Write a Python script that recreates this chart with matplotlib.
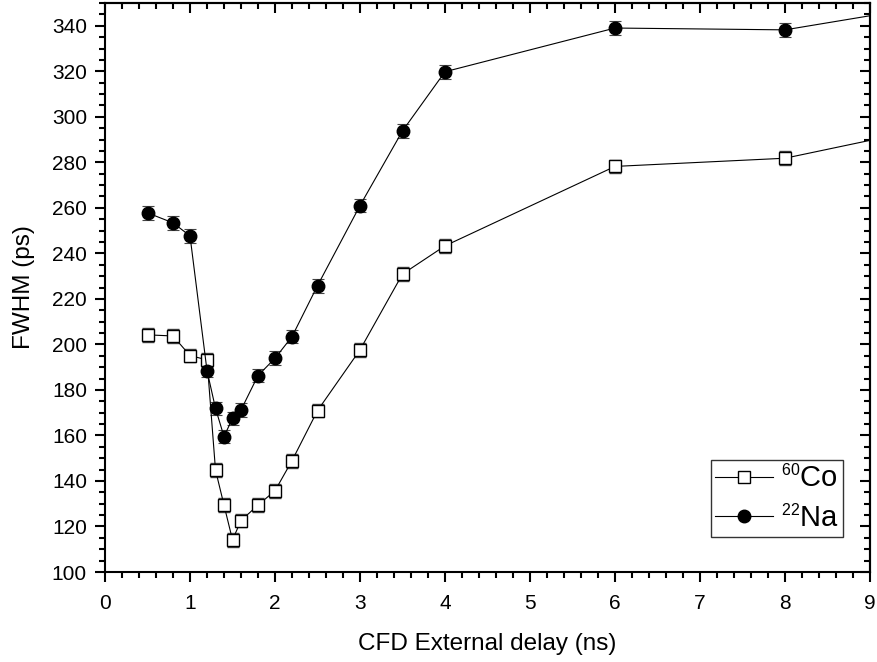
import matplotlib
matplotlib.use("Agg")
import matplotlib.pyplot as plt
from matplotlib.ticker import MultipleLocator
from matplotlib.lines import Line2D
try:
    import matplotlib._mathtext as _mt
    _mt.SHRINK_FACTOR = 0.55
except Exception:
    pass

plt.rcParams['font.family'] = ['Liberation Sans', 'DejaVu Sans']
plt.rcParams['mathtext.fontset'] = 'custom'
plt.rcParams['mathtext.rm'] = 'Liberation Sans'
plt.rcParams['mathtext.it'] = 'Liberation Sans'

# delay values (ns)
delay = [0.5, 0.8, 1.0, 1.2, 1.3, 1.4, 1.5, 1.6, 1.8, 2.0, 2.2, 2.5, 3.0, 3.5, 4.0, 6.0, 8.0, 10.0]
co60 = [204.2, 203.7, 195.1, 193.2, 144.8, 129.4, 114.1, 122.6, 129.4, 135.7, 148.9, 170.9, 197.6, 230.9, 243.3, 278.2, 281.8, 297.5]
na22 = [257.8, 253.4, 247.7, 188.5, 171.9, 159.5, 167.5, 171.2, 186.3, 193.9, 203.4, 225.8, 261.0, 293.8, 319.8, 339.0, 338.2, 350.6]
co60_err = [3] * len(delay)
na22_err = [3] * len(delay)
labels = ['$^{60}$Co', '$^{22}$Na']

fig = plt.figure(figsize=(8.77, 6.62), dpi=100)
ax = fig.add_axes([105/877, 1 - 572/662, 765/877, 569/662])

ax.errorbar(delay, co60, yerr=co60_err, color='black', lw=0.8, marker='s', ms=8,
            mfc='white', mec='black', mew=1.0, capsize=4, elinewidth=0.8, capthick=0.8,
            ecolor='#444444')
ax.errorbar(delay, na22, yerr=na22_err, color='black', lw=0.8, marker='o', ms=9,
            mfc='black', mec='black', capsize=4, elinewidth=0.8, capthick=0.8,
            ecolor='#444444')

ax.set_xlim(0, 9)
ax.set_ylim(100, 350)
ax.xaxis.set_major_locator(MultipleLocator(1))
ax.xaxis.set_minor_locator(MultipleLocator(0.2))
ax.yaxis.set_major_locator(MultipleLocator(20))
ax.yaxis.set_minor_locator(MultipleLocator(5))

for s in ax.spines.values():
    s.set_linewidth(1.5)

ax.tick_params(which='both', direction='out', labelsize=15, width=1.5,
               top=False, right=False)
ax.tick_params(axis='x', which='major', length=7, pad=9)
ax.tick_params(axis='y', which='major', length=7, pad=6)
ax.tick_params(which='minor', length=4)

# mirrored inward ticks on top and right
secx = ax.secondary_xaxis('top')
secx.xaxis.set_major_locator(MultipleLocator(1))
secx.xaxis.set_minor_locator(MultipleLocator(0.2))
secx.tick_params(which='both', direction='in', width=1.5, labeltop=False)
secx.tick_params(which='major', length=7)
secx.tick_params(which='minor', length=4)
secx.spines['top'].set_linewidth(1.5)
secy = ax.secondary_yaxis('right')
secy.yaxis.set_major_locator(MultipleLocator(20))
secy.yaxis.set_minor_locator(MultipleLocator(5))
secy.tick_params(which='both', direction='in', width=1.5, labelright=False)
secy.tick_params(which='major', length=7)
secy.tick_params(which='minor', length=4)
secy.spines['right'].set_linewidth(1.5)

ax.set_xlabel('CFD External delay (ns)', fontsize=17.5, labelpad=14)
ax.set_ylabel('FWHM (ps)', fontsize=17.5, labelpad=12)

handles = [
    Line2D([], [], color='black', lw=0.8, marker='s', ms=8, mfc='white', mec='black'),
    Line2D([], [], color='black', lw=0.8, marker='o', ms=9, mfc='black', mec='black'),
]
leg = ax.legend(handles, labels, loc='lower right',
                bbox_to_anchor=((843-105)/765, 35/569),
                borderaxespad=0, fontsize=21, frameon=True, fancybox=False,
                edgecolor='black', handlelength=2.0, handletextpad=0.25,
                borderpad=0.15, labelspacing=0.4)
leg.get_frame().set_linewidth(1.0)

fig.savefig('out.png', dpi=100)
